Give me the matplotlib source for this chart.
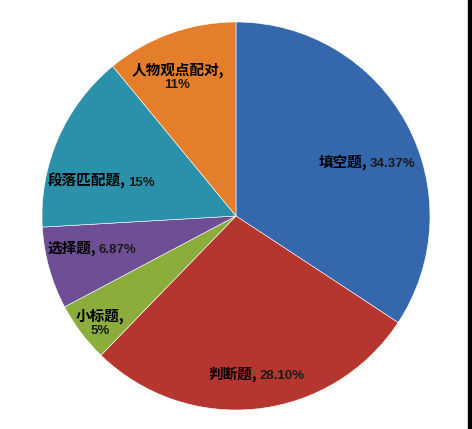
import numpy as np
import matplotlib
matplotlib.use("Agg")
import matplotlib.pyplot as plt
from matplotlib.offsetbox import TextArea, HPacker, VPacker, AnnotationBbox

# data (clockwise from 12 o'clock)
labels = ["填空题", "判断题", "小标题", "选择题", "段落匹配题", "人物观点配对"]
pct_text = ["34.37%", "28.10%", "5%", "6.87%", "15%", "11%"]
values = [34.37, 28.10, 5.0, 6.87, 15.0, 11.0]

colors = ["#3567ad", "#b5362f", "#8aad3b", "#6e4e94", "#2b90aa", "#e47e2a"]

# label placement: radius fraction, angle shift (deg), line break?
label_r = [0.73, 0.82, 0.89, 0.76, 0.72, 0.78]
label_shift = [-6, 1, 1, -3, 9, 3]
label_wrap = [False, False, True, False, False, True]

plt.rcParams["font.family"] = ["Noto Sans CJK SC", "DejaVu Sans"]

fig = plt.figure(figsize=(4.72, 4.29), dpi=100)
ax = fig.add_axes([0.0, 0.0, 1.0, 1.0])

wedges, _ = ax.pie(values, colors=colors, startangle=90, counterclock=False,
                   radius=1.0, center=(0, 0),
                   wedgeprops=dict(edgecolor="white", linewidth=0.4))

cn_props = dict(fontsize=10.5, fontweight="bold", color="black")
num_props = dict(fontsize=9.5, fontweight="bold", color="#1a1a1a",
                 family=["Liberation Sans", "DejaVu Sans"])

for w, lab, p, r, s, wrap in zip(wedges, labels, pct_text, label_r,
                                 label_shift, label_wrap):
    ang = np.deg2rad((w.theta1 + w.theta2) / 2 + s)
    x, y = r * np.cos(ang), r * np.sin(ang)
    if wrap:
        box = VPacker(children=[TextArea(lab + ",", textprops=cn_props),
                                TextArea(p, textprops=num_props)],
                      align="center", pad=0, sep=1)
    else:
        box = HPacker(children=[TextArea(lab + ",", textprops=cn_props),
                                TextArea(p, textprops=num_props)],
                      align="baseline", pad=0, sep=2)
    ab = AnnotationBbox(box, (x, y), frameon=False, box_alignment=(0.5, 0.5))
    ax.add_artist(ab)

# pie circle: center ~ (236,216) px, radius ~194 px
ax.set_xlim(-236 / 194, (472 - 236) / 194)
ax.set_ylim(-(429 - 216) / 194, 216 / 194)
ax.set_aspect("equal", adjustable="box")
ax.axis("off")

# dark strip on the right edge
fig.patches.append(plt.Rectangle((468 / 472, 0), 4 / 472, 1, transform=fig.transFigure,
                                 color="black", zorder=10))

fig.savefig("out.png", dpi=100)
